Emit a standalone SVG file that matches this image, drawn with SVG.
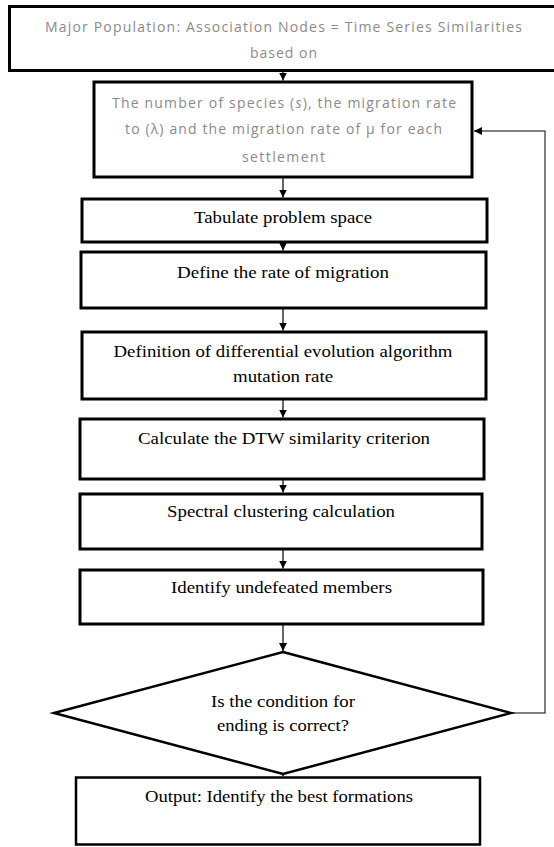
<svg xmlns="http://www.w3.org/2000/svg" width="554" height="847" viewBox="0 0 554 847">
<defs>
<marker id="ah" markerUnits="userSpaceOnUse" markerWidth="8" markerHeight="8" viewBox="0 0 8 8" refX="8" refY="4" orient="auto">
<path d="M0,0 L8,4 L0,8 z" fill="#000"/>
</marker>
</defs>
<style>
.box{fill:#fff;stroke:#000;stroke-width:3}
.thin{fill:#fff;stroke:#000;stroke-width:2.5}
.g{font-family:"Open Sans","Liberation Sans",Arial,sans-serif;font-size:14px;fill:#8a8a8a;text-anchor:middle}
.s{font-family:"Liberation Serif","Times New Roman",serif;font-size:16px;fill:#000;text-anchor:middle}
.c{fill:none;stroke:#000;stroke-width:1.2}
.fb{fill:none;stroke:#555;stroke-width:1.5}
</style>
<rect width="554" height="847" fill="#fff"/>
<g id="connectors">
<line class="c" x1="283" y1="71" x2="283" y2="80.5" marker-end="url(#ah)"/>
<line class="c" x1="283" y1="178" x2="283" y2="197.5" marker-end="url(#ah)"/>
<line class="c" x1="283" y1="243" x2="283" y2="250.5" marker-end="url(#ah)"/>
<line class="c" x1="283" y1="309" x2="283" y2="330.5" marker-end="url(#ah)"/>
<line class="c" x1="283" y1="400" x2="283" y2="417.5" marker-end="url(#ah)"/>
<line class="c" x1="283" y1="480" x2="283" y2="492.5" marker-end="url(#ah)"/>
<line class="c" x1="283" y1="550" x2="283" y2="568.5" marker-end="url(#ah)"/>
<line class="c" x1="283" y1="625" x2="283" y2="651" marker-end="url(#ah)"/>
<line class="c" x1="283" y1="770" x2="283" y2="776" marker-end="url(#ah)"/>
<polyline class="fb" points="511,713 545,713 545,131 474,131" marker-end="url(#ah)"/>
</g>
<g id="n1">
<rect class="box" x="9.5" y="6.5" width="560" height="64"/>
<text class="g" x="283.5" y="32" textLength="477" lengthAdjust="spacing">Major Population: Association Nodes = Time Series Similarities</text>
<text class="g" x="283.5" y="58" textLength="67" lengthAdjust="spacing">based on</text>
</g>
<g id="n2">
<rect class="box" x="94" y="82" width="378" height="95"/>
<text class="g" x="284" y="108" textLength="344" lengthAdjust="spacing">The number of species (<tspan font-style="italic">s</tspan>), the migration rate</text>
<text class="g" x="283.5" y="134" textLength="317" lengthAdjust="spacing">to (λ) and the migration rate of μ for each</text>
<text class="g" x="283.5" y="162" textLength="83" lengthAdjust="spacing">settlement</text>
</g>
<g id="n3">
<rect class="box" x="82" y="199" width="405" height="43"/>
<text class="s" x="283" y="223" textLength="178" lengthAdjust="spacingAndGlyphs">Tabulate problem space</text>
</g>
<g id="n4">
<rect class="box" x="81" y="252" width="405" height="56"/>
<text class="s" x="283" y="278" textLength="212" lengthAdjust="spacingAndGlyphs">Define the rate of migration</text>
</g>
<g id="n5">
<rect class="box" x="82" y="332" width="404" height="67"/>
<text class="s" x="283" y="357" textLength="339" lengthAdjust="spacingAndGlyphs">Definition of differential evolution algorithm</text>
<text class="s" x="283" y="382" textLength="100" lengthAdjust="spacingAndGlyphs">mutation rate</text>
</g>
<g id="n6">
<rect class="box" x="80" y="419" width="404" height="60"/>
<text class="s" x="284" y="444" textLength="292" lengthAdjust="spacingAndGlyphs">Calculate the DTW similarity criterion</text>
</g>
<g id="n7">
<rect class="box" x="80" y="494" width="402" height="55"/>
<text class="s" x="281" y="517" textLength="228" lengthAdjust="spacingAndGlyphs">Spectral clustering calculation</text>
</g>
<g id="n8">
<rect class="box" x="80" y="570" width="403" height="54"/>
<text class="s" x="281.5" y="593" textLength="221" lengthAdjust="spacingAndGlyphs">Identify undefeated members</text>
</g>
<g id="n9">
<polygon class="thin" points="283,652 511,713 283,774 54,713"/>
<text class="s" x="283" y="707" textLength="144" lengthAdjust="spacingAndGlyphs">Is the condition for</text>
<text class="s" x="283" y="731" textLength="132" lengthAdjust="spacingAndGlyphs">ending is correct?</text>
</g>
<g id="n10">
<rect class="thin" x="76" y="777.5" width="404" height="67"/>
<text class="s" x="279" y="802" textLength="268" lengthAdjust="spacingAndGlyphs">Output: Identify the best formations</text>
</g>
</svg>
